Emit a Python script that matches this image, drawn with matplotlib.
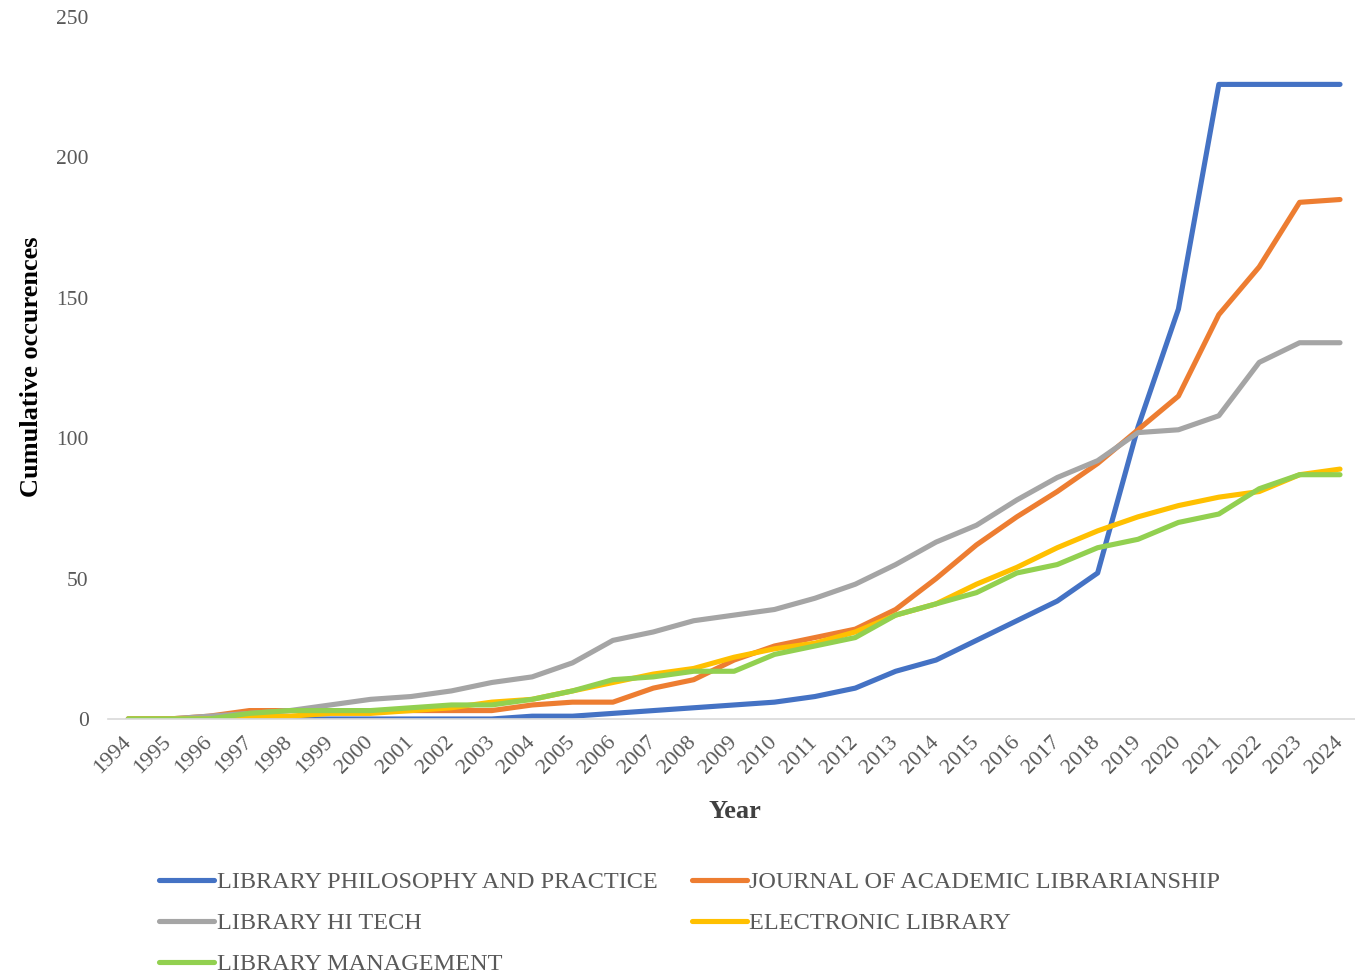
import matplotlib
matplotlib.use("Agg")
import matplotlib.pyplot as plt

years = [str(y) for y in range(1994, 2025)]

lpp = [0, 0, 0, 0, 0, 0, 0, 0, 0, 0, 1, 1, 2, 3, 4, 5, 6, 8, 11, 17, 21,
       28, 35, 42, 52, 104, 146, 226, 226, 226, 226]
jal = [0, 0, 1, 3, 3, 3, 3, 3, 3, 3, 5, 6, 6, 11, 14, 21, 26, 29, 32, 39, 50,
       62, 72, 81, 91, 103, 115, 144, 161, 184, 185]
lht = [0, 0, 1, 2, 3, 5, 7, 8, 10, 13, 15, 20, 28, 31, 35, 37, 39, 43, 48, 55, 63,
       69, 78, 86, 92, 102, 103, 108, 127, 134, 134]
el = [0, 0, 0, 1, 1, 2, 2, 3, 4, 6, 7, 10, 13, 16, 18, 22, 25, 27, 31, 37, 41,
      48, 54, 61, 67, 72, 76, 79, 81, 87, 89]
lm = [0, 0, 0, 2, 3, 3, 3, 4, 5, 5, 7, 10, 14, 15, 17, 17, 23, 26, 29, 37, 41,
      45, 52, 55, 61, 64, 70, 73, 82, 87, 87]

series_names = ["LIBRARY PHILOSOPHY AND PRACTICE", "JOURNAL OF ACADEMIC LIBRARIANSHIP",
                "LIBRARY HI TECH", "ELECTRONIC LIBRARY", "LIBRARY MANAGEMENT"]
series_values = [lpp, jal, lht, el, lm]
colors = ["#4472C4", "#ED7D31", "#A5A5A5", "#FFC000", "#92D050"]

plt.rcParams['font.family'] = ['Liberation Serif', 'DejaVu Serif']

W, H = 1355, 975
fig = plt.figure(figsize=(W / 100, H / 100), dpi=100)
ax = fig.add_axes([108 / W, 1 - 719 / H, (1355 - 108) / W, (719 - 17) / H])

x = list(range(len(years)))
lines = []
for name, vals, c in zip(series_names, series_values, colors):
    ln, = ax.plot(x, vals, color=c, lw=3.7, solid_capstyle='round',
                  solid_joinstyle='round', label=name)
    lines.append(ln)

ax.set_xlim(-0.5, 30 + (1355 - 1340) / 40.4)
ax.set_ylim(0, 250)
ax.set_yticks([0, 50, 100, 150, 200, 250])
ax.set_xticks(x)
ax.set_xticklabels(years, rotation=45, ha='right', va='center',
                   rotation_mode='anchor')
for s in ['top', 'right', 'left']:
    ax.spines[s].set_visible(False)
ax.spines['bottom'].set_color('#D9D9D9')
ax.spines['bottom'].set_linewidth(1.2)
ax.tick_params(axis='both', length=0, colors='#595959')
ax.tick_params(axis='y', pad=14, labelsize=15.5)
ax.tick_params(axis='x', pad=15, labelsize=16)

fig.text(32 / W, 1 - 367 / H, "Cumulative occurences", rotation=90,
         ha='center', va='center', fontsize=19, fontweight='bold', color='black')
fig.text(735 / W, 1 - 811 / H, "Year", ha='center', va='center',
         fontsize=19, fontweight='bold', color='#404040')

order = [0, 2, 4, 1, 3]
leg = fig.legend([lines[i] for i in order], [series_names[i] for i in order],
                 ncol=2, loc='upper left', bbox_to_anchor=(159 / W, 1 - 871 / H),
                 frameon=False, fontsize=17.5, handlelength=2.26,
                 handletextpad=0.12, columnspacing=1.4, labelspacing=0.79,
                 borderpad=0, borderaxespad=0)
for t in leg.get_texts():
    t.set_color('#595959')

fig.savefig("out.png", dpi=100)
